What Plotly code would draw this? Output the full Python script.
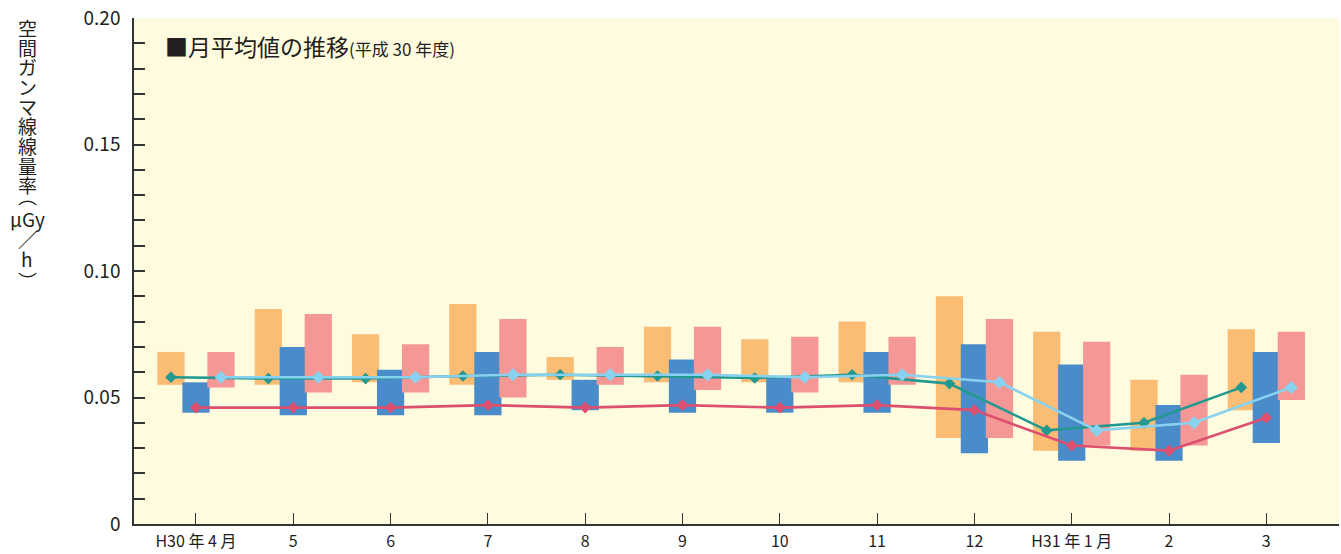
import numpy as np
import plotly.graph_objects as go

months = ["H30 年 4 月", "5", "6", "7", "8", "9", "10", "11", "12", "H31 年 1 月", "2", "3"]

orange_max = [0.068, 0.085, 0.075, 0.087, 0.066, 0.078, 0.073, 0.080, 0.090, 0.076, 0.057, 0.077]
orange_min = [0.055, 0.055, 0.056, 0.055, 0.057, 0.056, 0.056, 0.056, 0.034, 0.029, 0.029, 0.045]
blue_max = [0.056, 0.070, 0.061, 0.068, 0.057, 0.065, 0.058, 0.068, 0.071, 0.063, 0.047, 0.068]
blue_min = [0.044, 0.043, 0.043, 0.043, 0.045, 0.044, 0.044, 0.044, 0.028, 0.025, 0.025, 0.032]
pink_max = [0.068, 0.083, 0.071, 0.081, 0.070, 0.078, 0.074, 0.074, 0.081, 0.072, 0.059, 0.076]
pink_min = [0.054, 0.052, 0.052, 0.050, 0.055, 0.053, 0.052, 0.055, 0.034, 0.031, 0.031, 0.049]

green_avg = [0.058, 0.0575, 0.0575, 0.0585, 0.059, 0.0585, 0.0577, 0.059, 0.0555, 0.037, 0.040, 0.054]
red_avg = [0.046, 0.046, 0.046, 0.047, 0.046, 0.047, 0.046, 0.047, 0.045, 0.031, 0.029, 0.042]
lightblue_avg = [0.058, 0.058, 0.058, 0.059, 0.059, 0.059, 0.058, 0.059, 0.056, 0.037, 0.040, 0.054]

y_ticks = [0, 0.05, 0.10, 0.15, 0.20]
y_ticktext = ["0", "0.05", "0.10", "0.15", "0.20"]
ylabel_chars = ["空", "間", "ガ", "ン", "マ", "線", "線", "量", "率", "︵", "μGy", "／", "h", "︶"]
title_main = "■月平均値の推移"
title_sub = "(平成 30 年度)"

FONT = "Noto Sans CJK JP"
TXT = "#231f20"
C_ORANGE = "#FBBC74"
C_BLUE = "#4A8BC9"
C_PINK = "#F59795"
C_GREEN = "#22998F"
C_RED = "#DC4F6E"
C_LB = "#87D2F0"

W_PX, H_PX = 1341, 554
ML, MR, MT, MB = 134, 2, 18, 28
PW = W_PX - ML - MR
PH = H_PX - MT - MB

idx = np.arange(len(months))
OFF = 0.257
W = 0.28

fig = go.Figure()


def rng_bar(x, lo, hi, color):
    lo = np.array(lo)
    hi = np.array(hi)
    fig.add_trace(go.Bar(x=x, y=hi - lo, base=lo, width=W,
                         marker=dict(color=color, line=dict(width=0)),
                         showlegend=False, hoverinfo="skip"))


rng_bar(idx - OFF, orange_min, orange_max, C_ORANGE)
rng_bar(idx, blue_min, blue_max, C_BLUE)
rng_bar(idx + OFF, pink_min, pink_max, C_PINK)


def avg_line(x, y, color, msize):
    fig.add_trace(go.Scatter(x=x, y=y, mode="lines+markers",
                             line=dict(color=color, width=2.6),
                             marker=dict(symbol="diamond", size=msize, color=color),
                             showlegend=False, hoverinfo="skip"))


avg_line(idx - OFF, green_avg, C_GREEN, 9)
avg_line(idx, red_avg, C_RED, 9)
avg_line(idx + OFF, lightblue_avg, C_LB, 10)

fig.update_layout(
    width=W_PX, height=H_PX,
    margin=dict(l=ML, r=MR, t=MT, b=MB),
    paper_bgcolor="white",
    plot_bgcolor="#FFFBDF",
    barmode="overlay",
    font=dict(family=FONT, color=TXT),
    showlegend=False,
)

fig.update_xaxes(
    range=[-0.637, 11.747],
    tickmode="array", tickvals=idx, ticktext=months,
    ticks="inside", ticklen=11, tickcolor="#333333", tickwidth=1,
    showline=True, linecolor="#333333", linewidth=1.5,
    showgrid=False, zeroline=False,
    tickfont=dict(size=16, family=FONT, color=TXT),
    ticklabelstandoff=2,
    fixedrange=True,
)

fig.update_yaxes(
    range=[0, 0.20],
    tickmode="array", tickvals=y_ticks, ticktext=y_ticktext,
    ticks="inside", ticklen=11, tickcolor="#333333", tickwidth=1.5,
    minor=dict(dtick=0.01, tick0=0, ticks="inside", ticklen=11,
               tickcolor="#333333", tickwidth=1.5, showgrid=False),
    showline=True, linecolor="#333333", linewidth=1.5,
    showgrid=False, zeroline=False,
    tickfont=dict(size=19, family=FONT, color=TXT),
    ticklabelstandoff=8,
    fixedrange=True,
)

# vertical y-axis title, one glyph per row
label_centers_px = [27.5, 47.5, 67, 87, 106.5, 126, 146, 166, 185.5, 196, 219, 240, 259.5, 282]
for ch, yc in zip(ylabel_chars, label_centers_px):
    fig.add_annotation(
        text=ch, xref="paper", yref="paper",
        x=(27 - ML) / PW, y=(MT + PH - yc) / PH,
        xanchor="center", yanchor="middle",
        showarrow=False,
        font=dict(size=19, family=FONT, color=TXT),
    )

fig.add_annotation(
    text=title_main + "<span style='font-size:17px'>" + title_sub + "</span>",
    xref="paper", yref="paper",
    x=(163 - ML) / PW, y=(MT + PH - 46) / PH, xanchor="left", yanchor="middle",
    showarrow=False,
    font=dict(size=23, family=FONT, color=TXT),
)

fig.write_html("out.html", config={"displayModeBar": False},
               post_script="document.body.style.margin='0';document.body.style.overflow='hidden';")
